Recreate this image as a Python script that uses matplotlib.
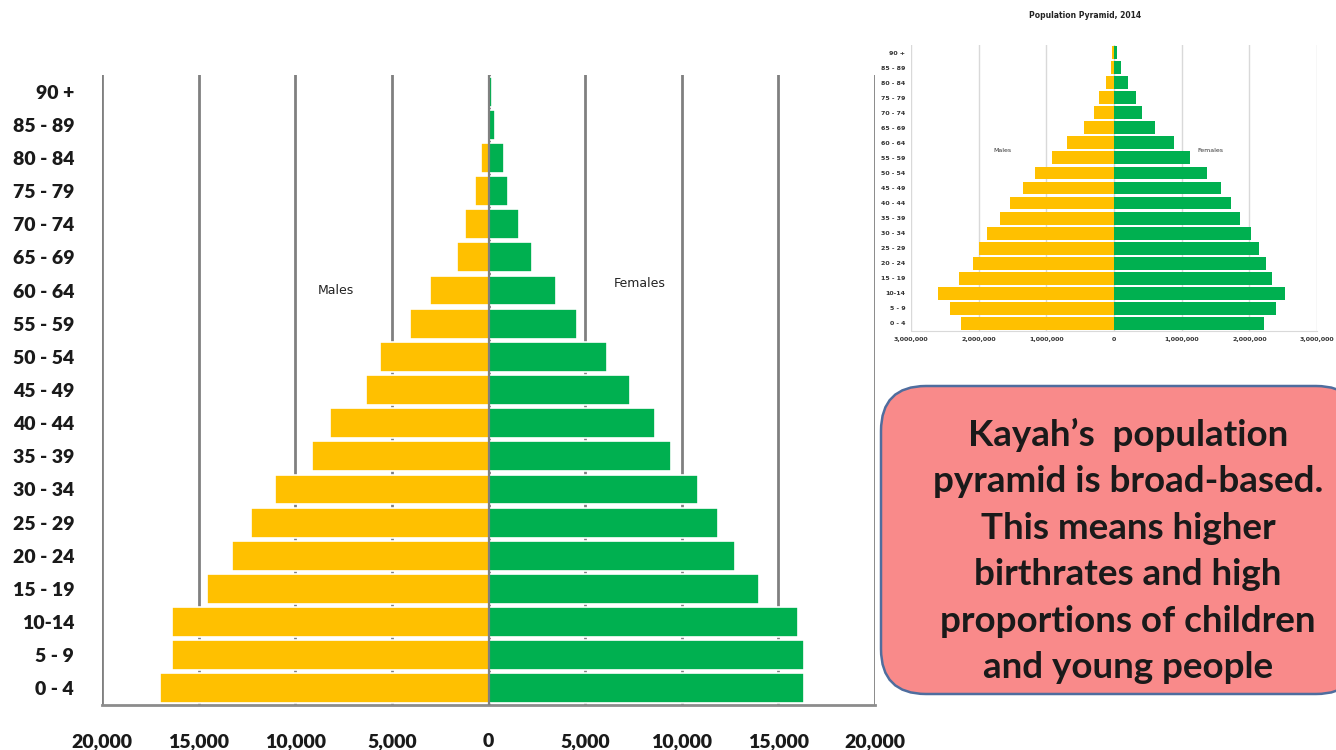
import matplotlib
matplotlib.use("Agg")
import matplotlib.pyplot as plt
from matplotlib.patches import FancyBboxPatch
from matplotlib.ticker import FuncFormatter
import numpy as np

# ---------------- data ----------------
age_groups = ["0 - 4", "5 - 9", "10-14", "15 - 19", "20 - 24", "25 - 29", "30 - 34",
              "35 - 39", "40 - 44", "45 - 49", "50 - 54", "55 - 59", "60 - 64",
              "65 - 69", "70 - 74", "75 - 79", "80 - 84", "85 - 89", "90 +"]
kayah_males = [17000, 16400, 16400, 14550, 13250, 12300, 11050, 9150, 8200, 6350,
               5600, 4050, 3050, 1650, 1200, 700, 400, 0, 0]
kayah_females = [16350, 16350, 16000, 14000, 12750, 11850, 10850, 9450, 8600, 7300,
                 6150, 4600, 3500, 2250, 1600, 1000, 800, 350, 200]

inset_age_groups = age_groups
national_males = [2260000, 2430000, 2600000, 2290000, 2090000, 1990000, 1880000,
                  1690000, 1530000, 1350000, 1170000, 920000, 700000, 450000,
                  300000, 220000, 120000, 50000, 25000]
national_females = [2220000, 2390000, 2520000, 2340000, 2240000, 2150000, 2020000,
                    1860000, 1730000, 1580000, 1380000, 1120000, 880000, 600000,
                    420000, 330000, 210000, 110000, 50000]

main_xticks = [-20000, -15000, -10000, -5000, 0, 5000, 10000, 15000, 20000]
inset_xticks = [-3000000, -2000000, -1000000, 0, 1000000, 2000000, 3000000]
inset_title = "Population Pyramid, 2014"
note_lines = ["Kayah\u2019s  population", "pyramid is broad-based.", "This means higher",
              "birthrates and high", "proportions of children", "and young people"]

YELLOW = "#FFC000"
GREEN = "#00B050"

W, H = 1336, 750
fig = plt.figure(figsize=(W / 100, H / 100), dpi=100)
fig.patch.set_facecolor("white")

def box(l, t, r, b):
    return [l / W, 1 - b / H, (r - l) / W, (b - t) / H]

# ---------------- main pyramid ----------------
ax = fig.add_axes(box(102, 75, 875, 705))
y = np.arange(len(age_groups))
ax.barh(y, -np.array(kayah_males), height=0.9, color=YELLOW, edgecolor="white",
        linewidth=1.2, zorder=3)
ax.barh(y, kayah_females, height=0.9, color=GREEN, edgecolor="white",
        linewidth=1.2, zorder=3)
ax.set_xlim(-20000, 20000)
ax.set_ylim(-0.5, len(age_groups) - 0.5)
ax.set_xticks(main_xticks)
ax.xaxis.set_major_formatter(FuncFormatter(lambda v, p: f"{abs(int(v)):,}"))
ax.set_yticks(y)
ax.set_yticklabels(age_groups)
for t in ax.get_xticklabels() + ax.get_yticklabels():
    t.set_fontfamily("Lato")
    t.set_fontweight("heavy")
    t.set_fontsize(14)
    t.set_color("#1a1a1a")
ax.tick_params(axis="x", length=0, pad=20)
ax.tick_params(axis="y", length=0, pad=20)
ax.grid(axis="x", color="#808080", linewidth=2, zorder=1)
ax.axvline(0, color="#808080", linewidth=1.6, zorder=4)
for s in ["top", "left", "right"]:
    ax.spines[s].set_visible(False)
ax.spines["bottom"].set_color("#8c8c8c")
ax.spines["bottom"].set_linewidth(2)
ax.text(-7900, 12.0, "Males", fontsize=9, fontfamily="DejaVu Sans", ha="center",
        va="center", color="#222222", zorder=5)
ax.text(7800, 12.2, "Females", fontsize=9, fontfamily="DejaVu Sans", ha="center",
        va="center", color="#222222", zorder=5)

# ---------------- inset pyramid ----------------
ax2 = fig.add_axes(box(911, 45, 1317, 331))
y2 = np.arange(len(inset_age_groups))
ax2.barh(y2, -np.array(national_males), height=0.85, color=YELLOW, zorder=3)
ax2.barh(y2, national_females, height=0.85, color=GREEN, zorder=3)
ax2.set_xlim(-3000000, 3000000)
ax2.set_ylim(-0.5, len(inset_age_groups) - 0.5)
ax2.set_xticks(inset_xticks)
ax2.xaxis.set_major_formatter(FuncFormatter(lambda v, p: f"{abs(int(v)):,}"))
ax2.set_yticks(y2)
ax2.set_yticklabels(inset_age_groups)
for t in ax2.get_xticklabels() + ax2.get_yticklabels():
    t.set_fontsize(4.5)
    t.set_fontweight("bold")
    t.set_color("#333333")
ax2.tick_params(axis="both", length=0, pad=4)
ax2.grid(axis="x", color="#d9d9d9", linewidth=1, zorder=1)
for s in ["top", "left", "right"]:
    ax2.spines[s].set_visible(False)
ax2.spines["bottom"].set_color("#d9d9d9")
ax2.text(-1650000, 11.5, "Males", fontsize=4.5, ha="center", va="center", color="#333333")
ax2.text(1430000, 11.5, "Females", fontsize=4.5, ha="center", va="center", color="#333333")
fig.text(1085 / W, 1 - 16 / H, inset_title, fontsize=5.5, fontweight="bold",
         ha="center", va="center", color="#222222")

# ---------------- note box ----------------
ov = fig.add_axes([0, 0, 1, 1], zorder=10)
ov.set_xlim(0, W)
ov.set_ylim(H, 0)
ov.axis("off")
ov.patch.set_alpha(0)
patch = FancyBboxPatch((881, 386), 480, 308, boxstyle="round,pad=0,rounding_size=45",
                       facecolor="#F98A8A", edgecolor="#4F6D9E", linewidth=1.8)
ov.add_patch(patch)
ov.text(1128, 551, "\n".join(note_lines), ha="center", va="center", fontsize=26.5,
        fontfamily="Lato", fontweight="bold", color="#1a1a1a", linespacing=1.5)

fig.savefig("out.png", dpi=100, facecolor="white")
